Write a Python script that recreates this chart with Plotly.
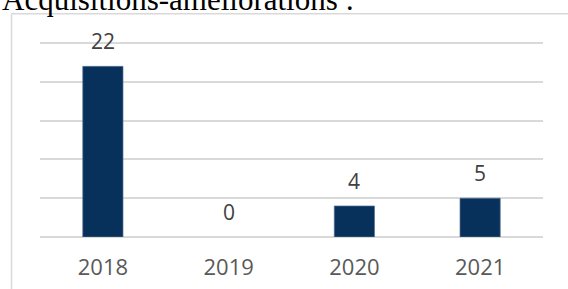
import plotly.graph_objects as go

categories = ["2018", "2019", "2020", "2021"]
values = [22, 0, 4, 5]
title_text = "Acquisitions-améliorations :"

W, H = 568, 289
Y_TOP = 25
Y_MAX = 25.4
base_px = 236.7
top_px = 43.3
plot_h = (base_px - top_px) * Y_MAX / Y_TOP
T = base_px - plot_h
B = H - base_px
L, R = 40, 25
plot_w = W - L - R

def px_to_paper_y(py):
    return (base_px - py) / plot_h

def px_to_paper_x(px):
    return (px - L) / plot_w

BAR = "#07305A"
GRID = "#D9D9D9"
TXT = "#595959"
FONT = "Open Sans"

fig = go.Figure()
fig.add_trace(go.Bar(
    x=categories, y=values,
    marker=dict(color=BAR,
                line=dict(color="#5A7394",
                          width=[0.7 if v > 0 else 0 for v in values])),
    width=0.32,
    hoverinfo="skip",
))

for i, v in enumerate(values):
    fig.add_annotation(
        x=i, y=v, xref="x", yref="y", text=str(v), showarrow=False,
        yanchor="bottom", yshift=9,
        font=dict(family=FONT, size=21, color="#404040"),
    )

fig.add_annotation(
    x=px_to_paper_x(0), y=px_to_paper_y(19), xref="paper", yref="paper",
    xanchor="left", yanchor="bottom", text=title_text, showarrow=False,
    font=dict(family="Liberation Serif", size=31, color="#000000"),
)

# chart border (left and top)
fig.add_shape(type="line", xref="paper", yref="paper",
              x0=px_to_paper_x(11.5), x1=px_to_paper_x(W + 5),
              y0=px_to_paper_y(14), y1=px_to_paper_y(14),
              line=dict(color=GRID, width=1.5))
fig.add_shape(type="line", xref="paper", yref="paper",
              x0=px_to_paper_x(11.5), x1=px_to_paper_x(11.5),
              y0=px_to_paper_y(14), y1=px_to_paper_y(H + 5),
              line=dict(color=GRID, width=1.5))

fig.update_layout(
    width=W, height=H,
    margin=dict(l=L, r=R, t=T, b=B, pad=0, autoexpand=False),
    paper_bgcolor="white", plot_bgcolor="white",
    showlegend=False,
    font=dict(family=FONT, color=TXT),
    xaxis=dict(type="category", range=[-0.5, len(categories) - 0.5],
               showgrid=False, showline=False, ticks="",
               tickfont=dict(size=22, color=TXT, family=FONT),
               ticklabelstandoff=15, zeroline=False, fixedrange=True,
               automargin=False),
    yaxis=dict(range=[0, Y_MAX], dtick=5, showgrid=True, gridcolor=GRID,
               gridwidth=1.5, showticklabels=False, zeroline=True,
               zerolinecolor=GRID, zerolinewidth=1.5, showline=False,
               fixedrange=True, automargin=False),
)

fig.write_html(
    "out.html",
    config={"displayModeBar": False},
    post_script="document.body.style.margin='0';document.body.style.overflow='hidden';",
)
